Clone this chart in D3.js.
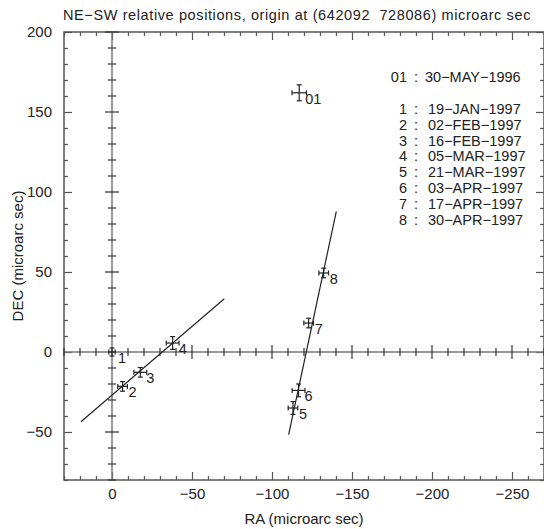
<!DOCTYPE html>
<html><head><meta charset="utf-8">
<script src="https://cdn.jsdelivr.net/npm/d3@7"></script>
<style>
body{margin:0;background:#fff;}
text{font-family:"Liberation Sans",Arial,sans-serif;fill:#222;}
</style></head>
<body><svg id="c" width="544" height="529"></svg>
<script>
// ---- data ----
const pointLabels = ["01","1","2","3","4","5","6","7","8"];
const raVals  = [-117, 0, -6.6, -17.7, -37.9, -113.1, -116.6, -122.9, -132.3];
const decVals = [162, 0, -21.5, -12.7, 5.6, -35, -24, 18.1, 49.4];
const raErr   = [4.5, 2, 3, 4, 4, 3, 4, 3, 3];
const decErr  = [5, 2.5, 3, 3, 4, 4, 4, 3, 3];
const fitA_ra  = [19.4, -70.2];
const fitA_dec = [-43.6, 33.3];
const fitB_ra  = [-110.4, -140.2];
const fitB_dec = [-51.7, 87.9];
const legendEpochs = ["01","1","2","3","4","5","6","7","8"];
const legendDates = ["30−MAY−1996","19−JAN−1997","02−FEB−1997","16−FEB−1997","05−MAR−1997","21−MAR−1997","03−APR−1997","17−APR−1997","30−APR−1997"];
const xMajor = [0, -50, -100, -150, -200, -250];
const yMajor = [-50, 0, 50, 100, 150, 200];
const xDomain = [30, -270];
const yDomain = [-80, 200];
const titleText = "NE−SW relative positions, origin at (642092\u00a0\u00a0728086) microarc sec";

// ---- layout ----
const L = 64, R = 544, T = 32, B = 480;
const svg = d3.select("#c");
const x = d3.scaleLinear().domain(xDomain).range([L, R]);
const y = d3.scaleLinear().domain(yDomain).range([B, T]);
const xMinor = d3.range(30, -271, -10).filter(v => v % 50 !== 0);
const yMinor = d3.range(-80, 201, 10).filter(v => v % 50 !== 0);
const fmt = v => v === 0 ? "0" : (v < 0 ? "−" + Math.abs(v) : String(v));
const axisCol = "#555";

function styleAxis(g){ g.select(".domain").remove(); g.selectAll("line").attr("stroke", axisCol).attr("stroke-width", 1.2); }
function styleText(sel){ sel.attr("font-size", 15).attr("fill", "#222").attr("font-family", "Liberation Sans, Arial, sans-serif"); }

// frame
svg.append("rect").attr("x", L).attr("y", T).attr("width", R - L).attr("height", B - T)
  .attr("fill", "none").attr("stroke", axisCol).attr("stroke-width", 1.5);

// bottom
svg.append("g").attr("transform", `translate(0,${B})`).call(d3.axisBottom(x).tickValues(xMajor).tickSize(-8).tickPadding(8).tickFormat(fmt)).call(styleAxis)
  .selectAll("text").call(styleText);
svg.append("g").attr("transform", `translate(0,${B})`).call(d3.axisBottom(x).tickValues(xMinor).tickSize(-4).tickFormat("")).call(styleAxis);
// top
svg.append("g").attr("transform", `translate(0,${T})`).call(d3.axisTop(x).tickValues(xMajor).tickSize(-8).tickFormat("")).call(styleAxis);
svg.append("g").attr("transform", `translate(0,${T})`).call(d3.axisTop(x).tickValues(xMinor).tickSize(-4).tickFormat("")).call(styleAxis);
// left
svg.append("g").attr("transform", `translate(${L},0)`).call(d3.axisLeft(y).tickValues(yMajor).tickSize(-8).tickPadding(12).tickFormat(fmt)).call(styleAxis)
  .selectAll("text").call(styleText);
svg.append("g").attr("transform", `translate(${L},0)`).call(d3.axisLeft(y).tickValues(yMinor).tickSize(-4).tickFormat("")).call(styleAxis);
// right
svg.append("g").attr("transform", `translate(${R},0)`).call(d3.axisRight(y).tickValues(yMajor).tickSize(-8).tickFormat("")).call(styleAxis);
svg.append("g").attr("transform", `translate(${R},0)`).call(d3.axisRight(y).tickValues(yMinor).tickSize(-4).tickFormat("")).call(styleAxis);

// zero lines with crossing ticks
const zx = x(0), zy = y(0);
svg.append("line").attr("x1", zx).attr("x2", zx).attr("y1", T).attr("y2", B).attr("stroke", "#777").attr("stroke-width", 1.5);
svg.append("line").attr("x1", L).attr("x2", R).attr("y1", zy).attr("y2", zy).attr("stroke", "#777").attr("stroke-width", 1.5);
const zt = svg.append("g").attr("stroke", "#333").attr("stroke-width", 1.2);
xMajor.concat(xMinor).forEach(v => { if (v === 0) return; const h = v % 50 === 0 ? 7 : 4;
  zt.append("line").attr("x1", x(v)).attr("x2", x(v)).attr("y1", zy - h).attr("y2", zy + h); });
yMajor.concat(yMinor).forEach(v => { if (v === 0) return; const h = v % 50 === 0 ? 7 : 4;
  zt.append("line").attr("y1", y(v)).attr("y2", y(v)).attr("x1", zx - h).attr("x2", zx + h); });

// fit lines
[[fitA_ra, fitA_dec], [fitB_ra, fitB_dec]].forEach(([r, d]) => {
  svg.append("line").attr("x1", x(r[0])).attr("y1", y(d[0])).attr("x2", x(r[1])).attr("y2", y(d[1]))
    .attr("stroke", "#222").attr("stroke-width", 1.2);
});

// points with error bars
const pts = pointLabels.map((l, i) => ({l, ra: raVals[i], dec: decVals[i], ex: raErr[i], ey: decErr[i]}));
const pg = svg.append("g").attr("stroke", "#222").attr("stroke-width", 1.2);
pts.forEach(p => {
  const cx = x(p.ra), cy = y(p.dec);
  const x1 = x(p.ra + p.ex), x2 = x(p.ra - p.ex), y1 = y(p.dec + p.ey), y2 = y(p.dec - p.ey);
  pg.append("line").attr("x1", x1).attr("x2", x2).attr("y1", cy).attr("y2", cy);
  pg.append("line").attr("x1", cx).attr("x2", cx).attr("y1", y1).attr("y2", y2);
  pg.append("line").attr("x1", x1).attr("x2", x1).attr("y1", cy - 2.5).attr("y2", cy + 2.5);
  pg.append("line").attr("x1", x2).attr("x2", x2).attr("y1", cy - 2.5).attr("y2", cy + 2.5);
  pg.append("line").attr("x1", cx - 2.5).attr("x2", cx + 2.5).attr("y1", y1).attr("y2", y1);
  pg.append("line").attr("x1", cx - 2.5).attr("x2", cx + 2.5).attr("y1", y2).attr("y2", y2);
  svg.append("text").attr("x", cx + 6).attr("y", cy + 11).attr("font-size", 14.5).attr("fill", "#222").text(p.l);
});

// legend
const legG = svg.append("g").attr("font-size", 14.5);
legendEpochs.forEach((e, i) => {
  const ly = i === 0 ? 82 : 114 + (i - 1) * 15.8;
  legG.append("text").attr("x", 407).attr("y", ly).attr("text-anchor", "end").text(e);
  legG.append("text").attr("x", 416).attr("y", ly).attr("text-anchor", "middle").text(":");
  legG.append("text").attr("x", i === 0 ? 425 : 428).attr("y", ly).text(legendDates[i]);
});

// titles
const title = svg.append("text").attr("x", 63).attr("y", 20).attr("font-size", 14.5).text(titleText);
const natural = title.node().getComputedTextLength();
const targetW = 468;
const ls = Math.max(0, Math.min(1, (targetW - natural) / titleText.length));
title.attr("letter-spacing", ls.toFixed(2));
svg.append("text").attr("x", (L + R) / 2).attr("y", 524).attr("text-anchor", "middle").attr("font-size", 15).text("RA (microarc sec)");
svg.append("text").attr("transform", `translate(23,${(T + B) / 2}) rotate(-90)`).attr("text-anchor", "middle").attr("font-size", 15).text("DEC (microarc sec)");
</script></body></html>
